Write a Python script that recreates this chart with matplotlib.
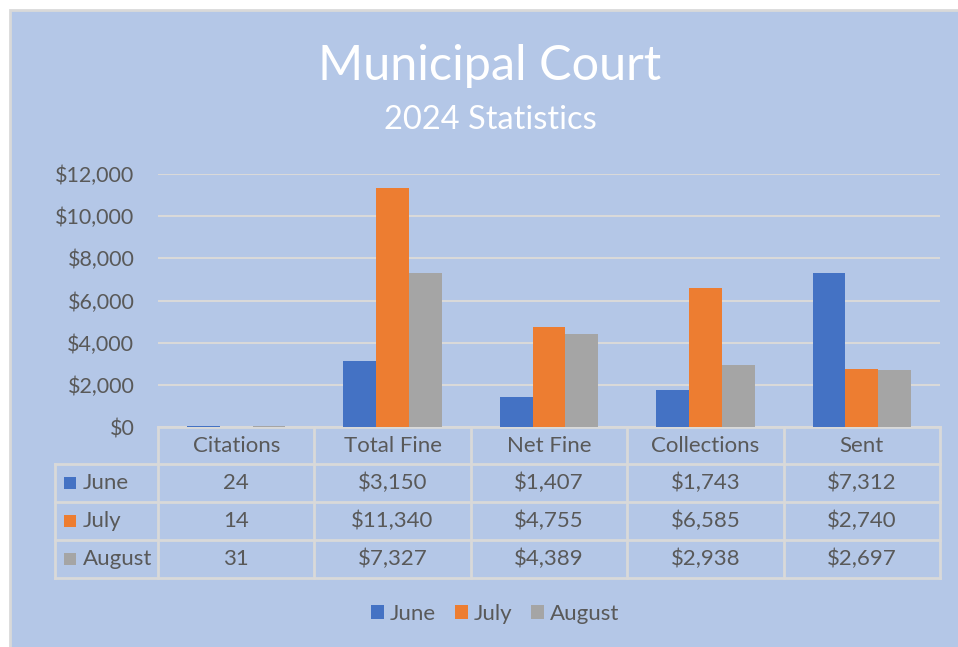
import matplotlib
matplotlib.use("Agg")
import matplotlib.pyplot as plt
from matplotlib.patches import Rectangle, Patch
from matplotlib.transforms import blended_transform_factory
import numpy as np

categories = ["Citations", "Total Fine", "Net Fine", "Collections", "Sent"]
series_names = ["June", "July", "August"]
june = [24, 3150, 1407, 1743, 7312]
july = [14, 11340, 4755, 6585, 2740]
august = [31, 7327, 4389, 2938, 2697]
colors = ["#4472C4", "#ED7D31", "#A5A5A5"]
yticks = [0, 2000, 4000, 6000, 8000, 10000, 12000]

plt.rcParams['font.family'] = ['Lato', 'DejaVu Sans']
TXT = "#595959"
GRID = "#D9D9D9"
BG = "#B4C7E7"

W, H = 958, 647
fig = plt.figure(figsize=(W / 100, H / 100), dpi=100, facecolor="white")

def fx(px):
    return px / W

def fy(py):
    return 1 - py / H

# chart background (extends past the right and bottom edges, border only visible top/left)
fig.patches.append(Rectangle((fx(10), fy(660)), fx(960), 650 / H, transform=fig.transFigure,
                             facecolor=BG, edgecolor=GRID, linewidth=2, zorder=-5))

left, right, top, bottom = 158, 940, 174, 427
ax = fig.add_axes([fx(left), fy(bottom), fx(right - left), (bottom - top) / H])
ax.set_facecolor("none")
ax.set_xlim(-0.5, len(categories) - 0.5)
ax.set_ylim(0, 12000)
ax.set_yticks(yticks)
ax.set_yticklabels([f"${v:,.0f}" for v in yticks], color=TXT, fontsize=15.5)
ax.tick_params(axis="y", length=0, pad=17)
ax.set_xticks([])
for s in ax.spines.values():
    s.set_visible(False)
ax.grid(axis="y", color=GRID, linewidth=1.5)
ax.set_axisbelow(True)

x = np.arange(len(categories))
bw = 0.21
for i, (vals, c) in enumerate(zip([june, july, august], colors)):
    ax.bar(x + (i - 1) * bw, vals, width=bw, color=c, linewidth=0, zorder=3)

# Title
fig.text(fx(490), fy(66), "Municipal Court", ha="center", va="center", color="white", fontsize=35)
fig.text(fx(490), fy(120), "2024 Statistics", ha="center", va="center", color="white", fontsize=23.5)

# data table
tr = blended_transform_factory(ax.transData, fig.transFigure)
row_y = [427, 464, 502, 540, 578]
xl_label = -0.5 - (left - 55) / ((right - left) / len(categories))
lw = 2
ax.plot([-0.5, len(categories) - 0.5], [fy(row_y[0])] * 2, transform=tr, color=GRID, lw=lw, clip_on=False)
for ry in row_y[1:]:
    ax.plot([xl_label, len(categories) - 0.5], [fy(ry)] * 2, transform=tr, color=GRID, lw=lw, clip_on=False)
for k in range(len(categories) + 1):
    ax.plot([k - 0.5, k - 0.5], [fy(row_y[0]), fy(row_y[-1])], transform=tr, color=GRID, lw=lw, clip_on=False)
ax.plot([xl_label, xl_label], [fy(row_y[1]), fy(row_y[-1])], transform=tr, color=GRID, lw=lw, clip_on=False)

for k, cat in enumerate(categories):
    ax.text(k, fy((row_y[0] + row_y[1]) / 2), cat, transform=tr, ha="center", va="center",
            color=TXT, fontsize=16)
for r, (name, vals, c) in enumerate(zip(series_names, [june, july, august], colors)):
    yc = fy((row_y[r + 1] + row_y[r + 2]) / 2)
    fig.patches.append(Rectangle((fx(64), yc - 6 / H), fx(12), 12 / H, transform=fig.transFigure,
                                 facecolor=c, edgecolor="none", zorder=2))
    fig.text(fx(83), yc, name, ha="left", va="center", color=TXT, fontsize=16)
    for k, v in enumerate(vals):
        label = f"{v}" if k == 0 else f"${v:,.0f}"
        ax.text(k, yc, label, transform=tr, ha="center", va="center", color=TXT, fontsize=16)

handles = [Patch(facecolor=c, edgecolor="none") for c in colors]
fig.legend(handles, series_names, loc="center", bbox_to_anchor=(fx(495), fy(614)), ncol=3,
           frameon=False, fontsize=16, labelcolor=TXT, handlelength=0.6, handleheight=0.6,
           handletextpad=0.25, columnspacing=0.85)

fig.savefig("out.png", dpi=100, facecolor="white")
